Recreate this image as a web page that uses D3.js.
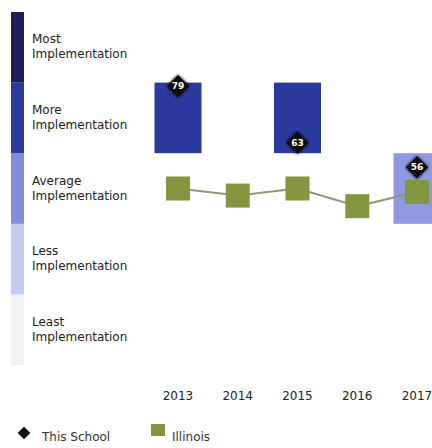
<!DOCTYPE html>
<html>
<head>
<meta charset="utf-8">
<script src="https://cdn.jsdelivr.net/npm/d3@7"></script>
<style>
  html, body { margin: 0; padding: 0; background: #fff; }
  svg { display: block; font-family: "DejaVu Sans", Verdana, sans-serif; }
</style>
</head>
<body>
<svg id="chart" width="432" height="448"></svg>
<script>
// Implementation levels, each covering a 20-point slice of the 0-100 score
const levelNames = ["Least", "Less", "Average", "More", "Most"];
const levelLow = [0, 20, 40, 60, 80];
const levelHigh = [20, 40, 60, 80, 100];
const levelColors = ["#f1f1f4", "#c3cbef", "#838ed6", "#2c3b9c", "#1f1e56"];
const barColors = ["#f1f1f4", "#c3cbef", "#8e99e2", "#2b3a9e", "#1f1e56"];

const years = ["2013", "2014", "2015", "2016", "2017"];
const schoolScores = [79, null, 63, null, 56];
const illinoisScores = [50, 48, 50, 45, 49];

const svg = d3.select("#chart");

const y = d3.scaleLinear().domain([0, 100]).range([365, 12]);
const x = d3.scalePoint().domain(years).range([178, 417]);

const defs = svg.append("defs");
const glow = defs.append("filter").attr("id", "glow")
  .attr("x", "-50%").attr("y", "-50%").attr("width", "200%").attr("height", "200%");
glow.append("feGaussianBlur").attr("in", "SourceAlpha").attr("stdDeviation", 1.6).attr("result", "b");
const merge = glow.append("feMerge");
merge.append("feMergeNode").attr("in", "b");
merge.append("feMergeNode").attr("in", "SourceGraphic");

const levelIndex = v => Math.min(4, Math.floor(v / 20));

// left-hand level strip
svg.append("g").selectAll("rect")
  .data(levelNames)
  .join("rect")
  .attr("x", 11)
  .attr("width", 13)
  .attr("y", (d, i) => y(levelHigh[i]))
  .attr("height", (d, i) => y(levelLow[i]) - y(levelHigh[i]))
  .attr("fill", (d, i) => levelColors[i]);

// level labels
const labels = svg.append("g").attr("font-size", 12).attr("fill", "#222");
levelNames.forEach((name, i) => {
  const mid = (y(levelLow[i]) + y(levelHigh[i])) / 2;
  const t = labels.append("text").attr("x", 32).attr("y", mid - 4);
  t.append("tspan").attr("x", 32).text(name);
  t.append("tspan").attr("x", 32).attr("dy", 15).text("Implementation");
});

// school bars: span the level band the score falls in
const school = years.map((yr, i) => ({ yr, v: schoolScores[i] })).filter(d => d.v != null);
const barW = 47;
svg.append("g").selectAll("rect")
  .data(school)
  .join("rect")
  .attr("x", d => x(d.yr) - barW / 2)
  .attr("width", barW)
  .attr("y", d => y(levelHigh[levelIndex(d.v)]))
  .attr("height", d => y(levelLow[levelIndex(d.v)]) - y(levelHigh[levelIndex(d.v)]))
  .attr("fill", d => barColors[levelIndex(d.v)]);

// Illinois line and squares
const state = years.map((yr, i) => ({ yr, v: illinoisScores[i] }));
svg.append("path")
  .datum(state)
  .attr("fill", "none")
  .attr("stroke", "#8d987a")
  .attr("stroke-width", 2)
  .attr("d", d3.line().x(d => x(d.yr)).y(d => y(d.v)));

const sq = 24;
svg.append("g").selectAll("rect")
  .data(state)
  .join("rect")
  .attr("x", d => x(d.yr) - sq / 2)
  .attr("y", d => y(d.v) - sq / 2)
  .attr("width", sq)
  .attr("height", sq)
  .attr("fill", "#84953f");

// school score diamonds with value labels
const dia = svg.append("g").selectAll("g")
  .data(school)
  .join("g")
  .attr("transform", d => `translate(${x(d.yr)},${y(d.v)})`);
dia.append("rect")
  .attr("x", -8).attr("y", -8).attr("width", 16).attr("height", 16)
  .attr("transform", "rotate(45)")
  .attr("fill", "#111")
  .attr("filter", "url(#glow)");
dia.append("text")
  .attr("text-anchor", "middle")
  .attr("dy", "0.35em")
  .attr("font-size", 9)
  .attr("font-weight", "bold")
  .attr("fill", "#fff")
  .text(d => d.v);

// year axis labels
svg.append("g").selectAll("text")
  .data(years)
  .join("text")
  .attr("x", d => x(d))
  .attr("y", 400)
  .attr("text-anchor", "middle")
  .attr("font-size", 12)
  .attr("fill", "#222")
  .text(d => d);

// legend
const lg = svg.append("g").attr("font-size", 12).attr("fill", "#333");
lg.append("rect")
  .attr("x", -4.5).attr("y", -4.5).attr("width", 9).attr("height", 9)
  .attr("transform", "translate(24,433) rotate(45)")
  .attr("fill", "#111");
lg.append("text").attr("x", 42).attr("y", 441).text("This School");
lg.append("rect").attr("x", 151).attr("y", 424).attr("width", 14).attr("height", 12).attr("fill", "#84953f");
lg.append("text").attr("x", 172).attr("y", 441).text("Illinois");
</script>
</body>
</html>
